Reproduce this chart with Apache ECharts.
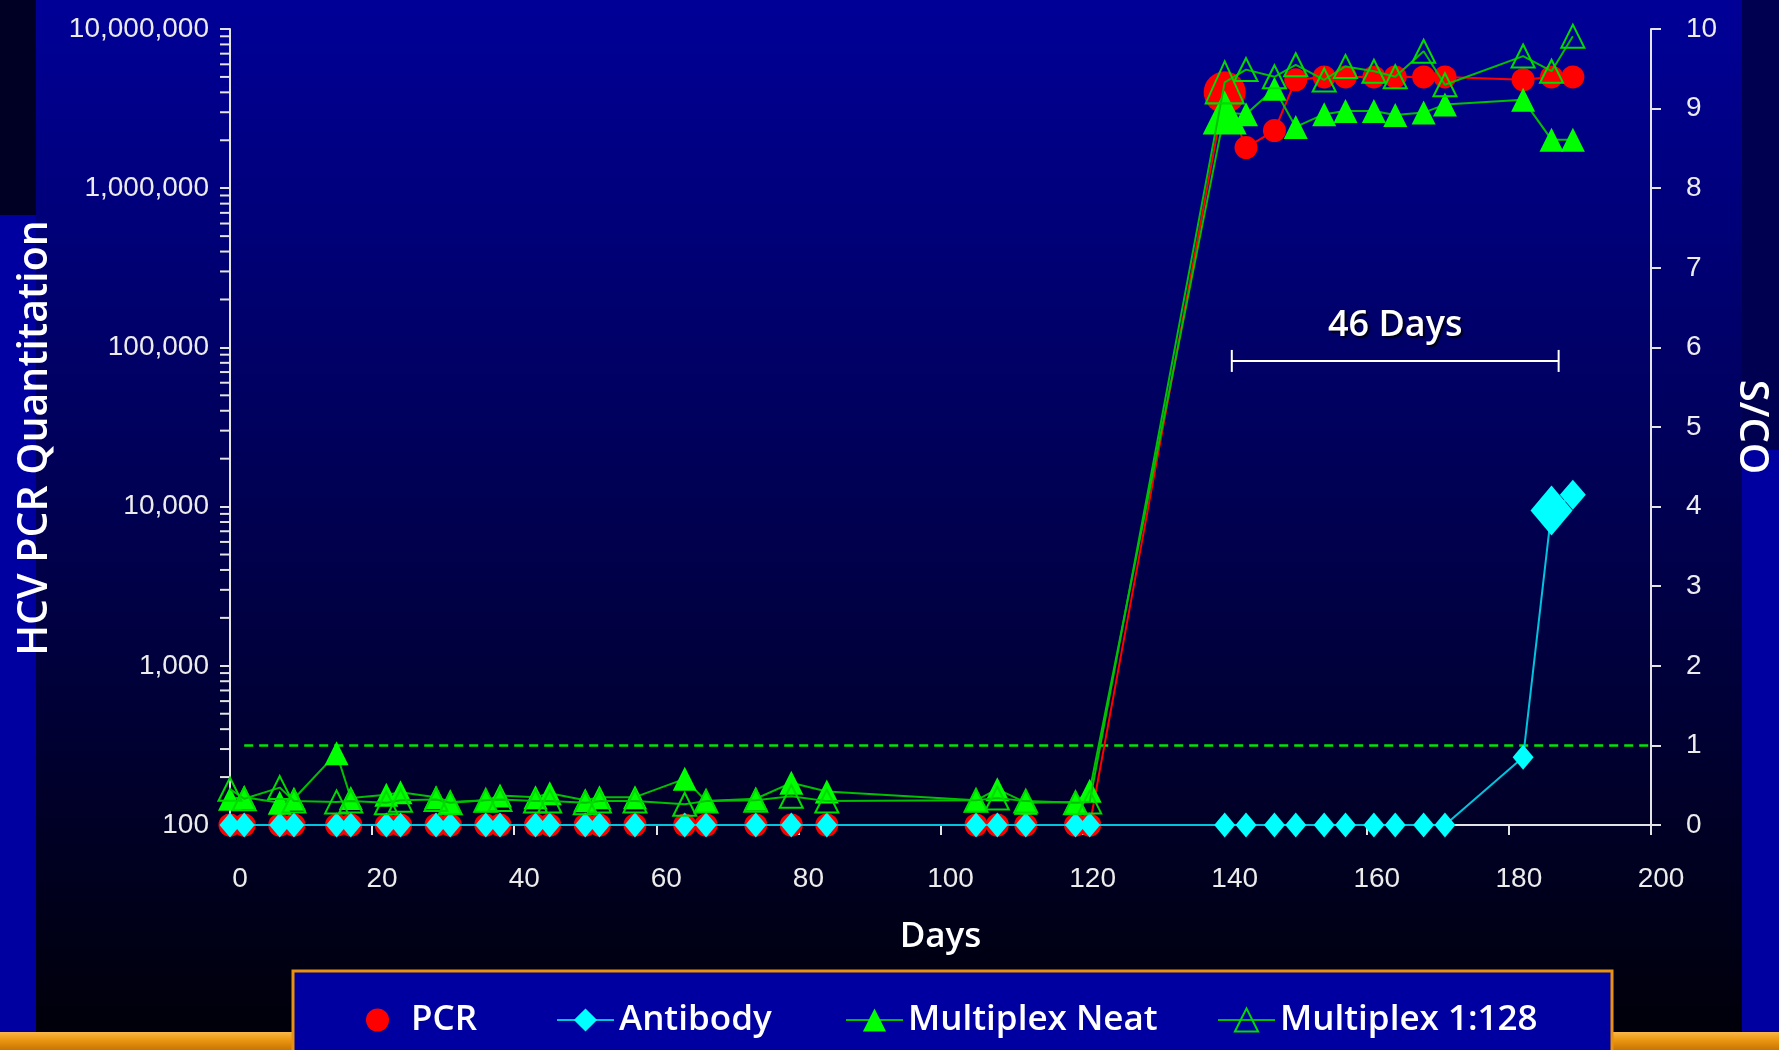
<!DOCTYPE html>
<html>
<head>
<meta charset="utf-8">
<title>HCV seroconversion panel</title>
<script src="https://cdn.jsdelivr.net/npm/echarts@6/dist/echarts.min.js"></script>
<style>
  html, body { margin: 0; padding: 0; background: #0000a0; overflow: hidden; }
  #chart { width: 1779px; height: 1050px; }
</style>
</head>
<body>
<div id="chart"></div>
<script>
// Bleed days of the panel
const sampleDays = [0, 2, 7, 9, 15, 17, 22, 24, 29, 31, 36, 38, 43, 45, 50, 52, 57, 64, 67, 74,
  79, 84, 105, 108, 112, 119, 121, 140, 143, 147, 150, 154, 157, 161, 164, 168, 171, 182, 186, 189];

// HCV RNA (copies/mL); 100 = not detected
const pcrCopies = [100, 100, 100, 100, 100, 100, 100, 100, 100, 100, 100, 100, 100, 100, 100, 100, 100, 100, 100, 100,
  100, 100, 100, 100, 100, 100, 100, 4000000, 1800000, 2300000, 4800000, 5000000, 5000000, 5000000, 5000000, 5000000, 5000000, 4800000, 5000000, 5000000];

// Antibody S/CO
const antibodySco = [0, 0, 0, 0, 0, 0, 0, 0, 0, 0, 0, 0, 0, 0, 0, 0, 0, 0, 0, 0,
  0, 0, 0, 0, 0, 0, 0, 0, 0, 0, 0, 0, 0, 0, 0, 0, 0, 0.85, 3.95, 4.15];

// Multiplex assay, neat sample, S/CO
const multiplexNeatSco = [0.33, 0.35, 0.28, 0.33, 0.90, 0.34, 0.38, 0.41, 0.35, 0.29, 0.31, 0.37, 0.35, 0.40, 0.31, 0.35, 0.35, 0.58, 0.30, 0.33,
  0.53, 0.42, 0.31, 0.45, 0.28, 0.29, 0.43, 8.95, 8.93, 9.25, 8.77, 8.93, 8.97, 8.97, 8.92, 8.95, 9.05, 9.11, 8.61, 8.61];

// Multiplex assay, 1:128 dilution, S/CO
const multiplex128Sco = [0.45, 0.33, 0.47, 0.30, 0.29, 0.30, 0.28, 0.31, 0.32, 0.28, 0.31, 0.32, 0.30, 0.30, 0.28, 0.30, 0.30, 0.26, 0.30, 0.31,
  0.36, 0.30, 0.31, 0.34, 0.30, 0.28, 0.29, 9.33, 9.49, 9.40, 9.55, 9.36, 9.53, 9.47, 9.40, 9.72, 9.30, 9.66, 9.47, 9.91];

// Assay cutoff (S/CO = 1)
const cutoffDays = [2, 200];
const cutoffSco = [1, 1];

// Window between first PCR-positive bleed and antibody reactivity
const windowDays = [141, 187];

// Axis ticks
const pcrTicks = [100, 1000, 10000, 100000, 1000000, 10000000];
const scoTicks = [0, 1, 2, 3, 4, 5, 6, 7, 8, 9, 10];
const dayTicks = [0, 20, 40, 60, 80, 100, 120, 140, 160, 180, 200];

// Minor ticks of the log axis (2..9 within each decade)
const pcrMinorTicks = [];
for (let k = 0; k < pcrTicks.length - 1; k++) {
  for (let m = 2; m <= 9; m++) pcrMinorTicks.push(pcrTicks[k] * m);
}

const pairs = (xs, ys) => xs.map((x, i) => [x, ys[i]]);
const withCommas = v => String(Math.round(v)).replace(/\B(?=(\d{3})+(?!\d))/g, ',');

const AXIS_COLOR = '#e4e4e4';
const TICK_FONT = { color: '#ececec', fontFamily: 'Liberation Sans', fontSize: 28 };
const TITLE_FONT = { color: '#ffffff', fontFamily: 'Open Sans', fontWeight: 600 };

const chart = echarts.init(document.getElementById('chart'), null, { renderer: 'canvas' });

const legendBase = {
  orient: 'horizontal', top: 1000, padding: 0, itemWidth: 57, itemHeight: 29, selectedMode: false,
  textStyle: { color: '#ffffff', fontFamily: 'Open Sans', fontWeight: 600, fontSize: 35, lineHeight: 40 }
};

chart.setOption({
  animation: false,
  backgroundColor: '#0000a0',
  graphic: [
    { type: 'rect', silent: true, z: -10, shape: { x: 0, y: 0, width: 36, height: 215 }, style: { fill: '#000024' } },
    { type: 'rect', silent: true, z: -10, shape: { x: 1742, y: 0, width: 37, height: 450 }, style: { fill: '#000050' } },
    {
      type: 'rect', silent: true, z: -10, shape: { x: 36, y: 0, width: 1706, height: 1032 },
      style: {
        fill: new echarts.graphic.LinearGradient(0, 0, 0, 1, [
          { offset: 0, color: '#000098' }, { offset: 0.45, color: '#000058' }, { offset: 1, color: '#00000a' }
        ])
      }
    },
    {
      type: 'rect', silent: true, z: -9, shape: { x: 0, y: 1032, width: 1779, height: 18 },
      style: {
        fill: new echarts.graphic.LinearGradient(0, 0, 0, 1, [
          { offset: 0, color: '#f7b84a' }, { offset: 0.4, color: '#ee9a14' }, { offset: 1, color: '#c97400' }
        ])
      }
    },
    {
      type: 'rect', silent: true, z: -8, shape: { x: 293, y: 971, width: 1319, height: 100 },
      style: { fill: '#0000a0', stroke: '#e8920e', lineWidth: 3 }
    }
  ],
  grid: { left: 230, right: 121, top: 29, bottom: 225, containLabel: false },
  legend: [
    Object.assign({}, legendBase, { left: 366, itemHeight: 23, data: [{ name: 'PCR', icon: 'circle' }] }),
    Object.assign({}, legendBase, { left: 556, data: ['Antibody'] }),
    Object.assign({}, legendBase, { left: 845, data: ['Multiplex Neat'] }),
    Object.assign({}, legendBase, { left: 1217, data: ['Multiplex 1:128'] })
  ],
  xAxis: {
    type: 'value', min: dayTicks[0], max: dayTicks[dayTicks.length - 1], interval: dayTicks[1] - dayTicks[0],
    name: 'Days', nameLocation: 'middle', nameGap: 95,
    nameTextStyle: Object.assign({ fontSize: 35 }, TITLE_FONT),
    axisLine: { show: true, onZero: false, lineStyle: { color: AXIS_COLOR, width: 2 } },
    axisTick: { show: true, inside: false, length: 10, lineStyle: { color: AXIS_COLOR, width: 2 } },
    axisLabel: Object.assign({ margin: 40, padding: [0, 0, 0, 20] }, TICK_FONT),
    splitLine: { show: false }
  },
  yAxis: [
    {
      type: 'log', logBase: 10, min: pcrTicks[0], max: pcrTicks[pcrTicks.length - 1], position: 'left',
      name: 'HCV PCR Quantitation', nameLocation: 'middle', nameGap: 174, nameRotate: 90,
      nameTextStyle: Object.assign({ fontSize: 41, padding: [0, 22, 0, 0] }, TITLE_FONT),
      axisLine: { show: true, lineStyle: { color: AXIS_COLOR, width: 2 } },
      axisTick: { show: true, inside: false, length: 10, lineStyle: { color: AXIS_COLOR, width: 2 } },
      axisLabel: Object.assign({ margin: 21, formatter: withCommas }, TICK_FONT),
      splitLine: { show: false }
    },
    {
      type: 'value', min: scoTicks[0], max: scoTicks[scoTicks.length - 1], interval: scoTicks[1] - scoTicks[0], position: 'right',
      name: 'S/CO', nameLocation: 'middle', nameGap: 80, nameRotate: -90,
      nameTextStyle: Object.assign({ fontSize: 40 }, TITLE_FONT),
      axisLine: { show: true, lineStyle: { color: AXIS_COLOR, width: 2 } },
      axisTick: { show: true, inside: false, length: 10, lineStyle: { color: AXIS_COLOR, width: 2 } },
      axisLabel: Object.assign({ margin: 35, padding: [5, 0, 0, 0] }, TICK_FONT),
      splitLine: { show: false }
    }
  ],
  series: [
    {
      // minor ticks on the log axis
      type: 'custom', name: 'pcr-minor-ticks', yAxisIndex: 0, silent: true, clip: false, z: 1,
      data: pcrMinorTicks.map(v => [dayTicks[0], v]),
      encode: { x: 0, y: 1 },
      renderItem: (params, api) => {
        const p = api.coord([api.value(0), api.value(1)]);
        return { type: 'line', shape: { x1: p[0] - 10, y1: p[1], x2: p[0], y2: p[1] }, style: { stroke: AXIS_COLOR, lineWidth: 2 } };
      }
    },
    {
      type: 'line', name: 'Cutoff', yAxisIndex: 1, silent: true, symbol: 'none', z: 2,
      data: pairs(cutoffDays, cutoffSco),
      lineStyle: { color: '#00e600', width: 2.5, type: [9, 6] }
    },
    {
      type: 'line', name: 'PCR', yAxisIndex: 0, z: 3,
      data: pairs(sampleDays, pcrCopies),
      symbol: 'circle',
      symbolSize: v => (v[0] === 140 ? 42 : 23),
      itemStyle: { color: '#ff0000' },
      lineStyle: { color: '#ff0000', width: 2 }
    },
    {
      type: 'line', name: 'Antibody', yAxisIndex: 1, z: 4,
      data: pairs(sampleDays, antibodySco),
      symbol: 'diamond',
      symbolSize: v => (v[0] === 186 ? [42, 50] : v[0] === 189 ? [26, 30] : [21, 25]),
      itemStyle: { color: '#00ffff' },
      lineStyle: { color: '#00c4dc', width: 2 }
    },
    {
      type: 'line', name: 'Multiplex Neat', yAxisIndex: 1, z: 5,
      data: pairs(sampleDays, multiplexNeatSco),
      symbol: 'triangle',
      symbolSize: v => (v[0] === 140 ? 44 : 24),
      itemStyle: { color: '#00ff00' },
      lineStyle: { color: '#00c000', width: 2 }
    },
    {
      type: 'line', name: 'Multiplex 1:128', yAxisIndex: 1, z: 6,
      data: pairs(sampleDays, multiplex128Sco),
      symbol: 'triangle',
      symbolSize: v => (v[0] === 140 ? [38, 42] : 23),
      itemStyle: { color: 'rgba(0,0,0,0)', borderColor: '#00dc00', borderWidth: 2 },
      lineStyle: { color: '#00c000', width: 2 }
    },
    {
      // bracket marking the window period
      type: 'custom', name: 'window', yAxisIndex: 1, silent: true, clip: false, z: 7,
      data: [[windowDays[0], windowDays[1], 5.83]],
      renderItem: (params, api) => {
        const a = api.coord([api.value(0), api.value(2)]);
        const b = api.coord([api.value(1), api.value(2)]);
        const stroke = { stroke: '#ffffff', lineWidth: 2 };
        return {
          type: 'group',
          children: [
            { type: 'line', shape: { x1: a[0], y1: a[1], x2: b[0], y2: b[1] }, style: stroke },
            { type: 'line', shape: { x1: a[0], y1: a[1] - 11, x2: a[0], y2: a[1] + 11 }, style: stroke },
            { type: 'line', shape: { x1: b[0], y1: b[1] - 11, x2: b[0], y2: b[1] + 11 }, style: stroke },
            {
              type: 'text',
              style: {
                text: (api.value(1) - api.value(0)) + ' Days',
                x: (a[0] + b[0]) / 2, y: a[1] - 35, align: 'center', verticalAlign: 'middle',
                fill: '#ffffff', font: '600 36px "Open Sans"',
                textShadowColor: 'rgba(0,0,0,0.85)', textShadowBlur: 2, textShadowOffsetX: 2, textShadowOffsetY: 2
              }
            }
          ]
        };
      }
    }
  ]
});
</script>
</body>
</html>
